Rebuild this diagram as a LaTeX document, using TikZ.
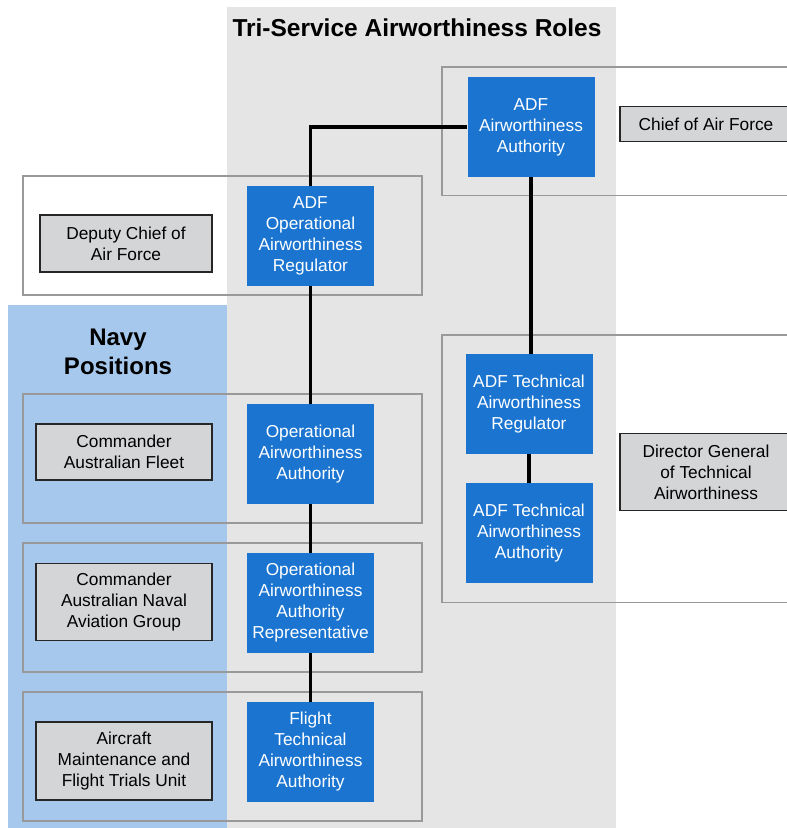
\documentclass[tikz,border=0pt]{standalone}
\usepackage{fontspec}
\setmainfont{Liberation Sans}
\usetikzlibrary{positioning}
\definecolor{ROLE-BLUE}{RGB}{27,117,208}
\definecolor{NAVY-BLUE}{RGB}{166,200,236}
\definecolor{TRI-GREY}{RGB}{229,229,229}
\definecolor{POST-GREY}{RGB}{212,213,215}
\definecolor{FRAME-GREY}{RGB}{153,153,153}

\begin{document}
\begin{tikzpicture}[x=1pt,y=-1pt,
  role/.style={fill=ROLE-BLUE, text=white, minimum width=127pt, minimum height=100pt,
    inner sep=1pt, align=center, font=\fontsize{17.3}{21}\selectfont},
  post/.style={fill=POST-GREY, draw=black!85, line width=1.2pt, minimum width=176pt,
    inner sep=1pt, align=center, font=\fontsize{17.3}{21}\selectfont},
  group/.style={draw=FRAME-GREY, line width=1.3pt},
  link/.style={line width=3.7pt}]
  \clip (0,0) rectangle (787,828);

  % Tri-service column and navy panel
  \fill[TRI-GREY] (227,7) rectangle (616,828);
  \fill[NAVY-BLUE] (8,305) rectangle (227,828);
  \node[font=\bfseries\fontsize{24.5}{28}\selectfont] (title) at (417,28) {Tri-Service Airworthiness Roles};
  \node[align=center, font=\bfseries\fontsize{24}{29}\selectfont] (navy) at (118,352) {Navy\\Positions};

  % Group frames
  \draw[group] (442,67) rectangle (800,195.5);
  \draw[group] (23,176) rectangle (422,295);
  \draw[group] (442,335) rectangle (800,602.5);
  \draw[group] (23,394) rectangle (422,523);
  \draw[group] (23,543) rectangle (422,672);
  \draw[group] (23,692) rectangle (422,821);

  % Airworthiness roles
  \node[role] (aa) at (531,127) {ADF\\Airworthiness\\Authority};
  \node[role] (oar) at (310.5,236) {ADF\\Operational\\Airworthiness\\Regulator};
  \node[role] (oaa) at (310.5,454) {Operational\\Airworthiness\\Authority};
  \node[role] (oaar) at (310.5,603) {Operational\\Airworthiness\\Authority\\Representative};
  \node[role] (ftaa) at (310.5,752) {Flight\\Technical\\Airworthiness\\Authority};
  \node[role] (tar) at (529,404) {ADF Technical\\Airworthiness\\Regulator};
  \node[role] (taa) at (529,533) {ADF Technical\\Airworthiness\\Authority};

  % Positions holding them
  \node[post, minimum width=172pt, minimum height=35pt] (caf) at (706,124) {Chief of Air Force};
  \node[post, minimum width=172pt, minimum height=57pt] (dcaf) at (126,243.5) {Deputy Chief of\\Air Force};
  \node[post, minimum width=172pt, minimum height=77pt] (dgta) at (706,472) {Director General\\of Technical\\Airworthiness};
  \node[post, minimum height=56pt] (comaust) at (124,452) {Commander\\Australian Fleet};
  \node[post, minimum height=77pt] (canag) at (124,602) {Commander\\Australian Naval\\Aviation Group};
  \node[post, minimum height=78pt] (amaftu) at (124,761) {Aircraft\\Maintenance and\\Flight Trials Unit};

  % Chains of authority
  \draw[link] (aa.west) -| (oar.north);
  \draw[link] (oar) -- (oaa);
  \draw[link] (oaa) -- (oaar);
  \draw[link] (oaar) -- (ftaa);
  \draw[link] (aa.south) -- (aa.south |- tar.north);
  \draw[link] (tar) -- (taa);
\end{tikzpicture}
\end{document}
